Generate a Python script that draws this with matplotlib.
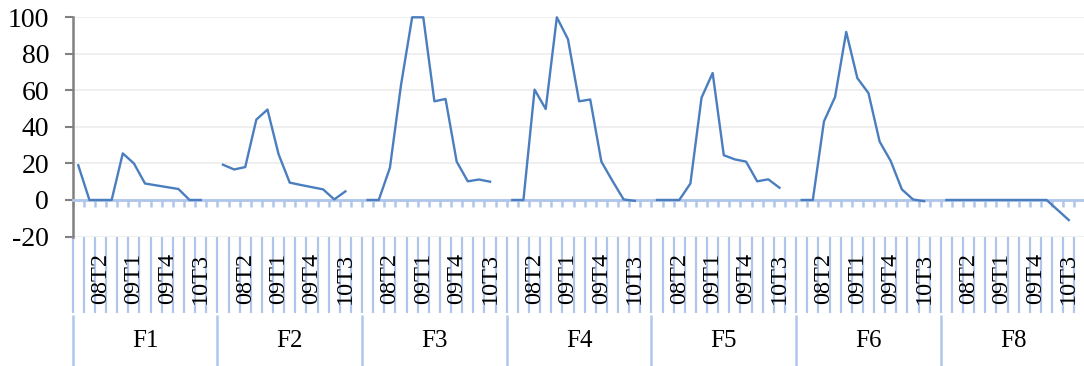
import numpy as np
import matplotlib.pyplot as plt

# ========= 数据 =========
groups = ["F1", "F2", "F3", "F4", "F5", "F6", "F8"]
quarters = ["07T4", "08T1", "08T2", "08T3", "08T4", "09T1", "09T2",
            "09T3", "09T4", "10T1", "10T2", "10T3", "10T4"]
shown_quarters = ["08T2", "09T1", "09T4", "10T3"]

nan = np.nan
f1 = [19, 0, 0, 0, 25.5, 20, 9, 8, 7, 6, 0, 0, nan]
f2 = [19.3, 16.7, 18, 44, 49.5, 25, 9.5, 8.2, 7, 5.8, 0.3, 4.7, nan]
f3 = [0, 0, 17.6, 63, 100, 100, 54, 55.3, 21, 10.2, 11.2, 10, nan]
f4 = [0, 0, 60.4, 49.8, 100, 88, 54, 55, 21, 10.4, 0.3, -0.5, nan]
f5 = [0, 0, 0, 9, 56, 69.5, 24.5, 22.2, 21, 10.2, 11.3, 6.7, nan]
f6 = [0, 0, 43, 56.4, 92, 66.7, 58.5, 32, 21.3, 5.8, 0.3, -0.7, nan]
f8 = [0, 0, 0, 0, 0, 0, 0, 0, 0, 0, -5.5, -11, nan]

y_ticks = [-20, 0, 20, 40, 60, 80, 100]
# =======================

LINE_BLUE = "#4A7EBF"
AXIS_BLUE = "#AFC6EA"
GRID_GRAY = "#EEEEEE"
SPINE_GRAY = "#808080"


def main():
    plt.rcParams.update({
        "font.family": ["Liberation Serif", "DejaVu Serif"],
        "font.size": 17,
        "axes.unicode_minus": False,
    })

    series = [f1, f2, f3, f4, f5, f6, f8]
    values = np.concatenate([np.asarray(s, dtype=float) for s in series])
    n_q = len(quarters)
    n_all = len(values)
    x = np.arange(n_all)

    fig = plt.figure(figsize=(10.84, 3.66), dpi=100)
    ax = fig.add_axes([72.7 / 1084, 1 - 236.5 / 366, 1012.8 / 1084, 219.2 / 366])

    ax.plot(x, values, color=LINE_BLUE, lw=1.7, clip_on=False, zorder=3)

    ax.set_xlim(-0.5, n_all - 0.5)
    ax.set_ylim(-20, 100)
    ax.set_yticks(y_ticks)
    ax.grid(axis="y", color=GRID_GRAY, lw=1.3, zorder=0)
    ax.set_axisbelow(True)

    for s in ["top", "right"]:
        ax.spines[s].set_visible(False)
    ax.spines["left"].set_color(SPINE_GRAY)
    ax.spines["left"].set_linewidth(1.8)
    ax.tick_params(axis="y", direction="out", length=6, width=1.5,
                   color=SPINE_GRAY, pad=11, labelsize=20)

    # 类别轴放在 0 处，刻度在每个类别边界
    ax.spines["bottom"].set_position(("data", 0))
    ax.spines["bottom"].set_color(AXIS_BLUE)
    ax.spines["bottom"].set_linewidth(2.0)
    bounds = np.arange(n_all + 1) - 0.5
    ax.set_xticks(bounds)
    ax.set_xticklabels([])
    ax.tick_params(axis="x", direction="out", length=5, width=1.8,
                   color=AXIS_BLUE)

    trans = ax.get_xaxis_transform()
    # 下方标签区的竖线
    ax.vlines(bounds, -0.349, 0, transform=trans, color=AXIS_BLUE,
              lw=1.6, clip_on=False, zorder=1)
    group_bounds = np.arange(len(groups) + 1) * n_q - 0.5
    ax.vlines(group_bounds, -0.62, -0.358, transform=trans, color=AXIS_BLUE,
              lw=1.8, clip_on=False, zorder=1)

    for g, name in enumerate(groups):
        for i, q in enumerate(quarters):
            if q in shown_quarters:
                ax.annotate(q, xy=(g * n_q + i, 0), xycoords=trans,
                            xytext=(0, -11.5), textcoords="offset points",
                            rotation=90, ha="center", va="top", fontsize=17.5,
                            annotation_clip=False)
        ax.annotate(name, xy=(g * n_q + (n_q - 1) / 2, 0), xycoords=trans,
                    xytext=(0, -75), textcoords="offset points",
                    ha="center", va="center", fontsize=18,
                    annotation_clip=False)

    fig.savefig("out.png", dpi=100)
    plt.close(fig)


if __name__ == "__main__":
    main()
